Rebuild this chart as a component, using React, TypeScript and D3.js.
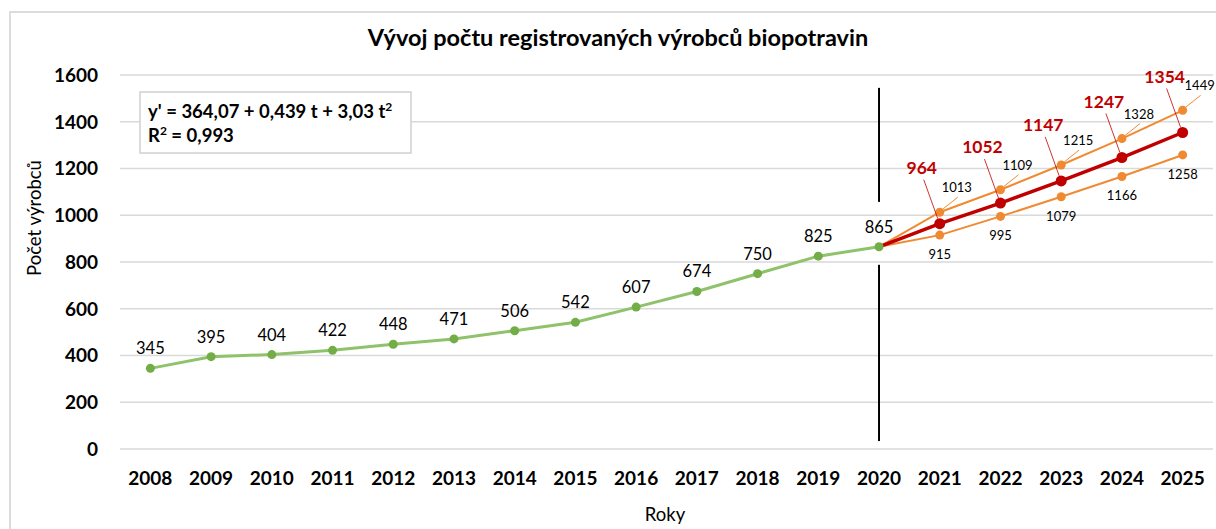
import React from "react";
import * as d3 from "d3";

const years = [
  "2008", "2009", "2010", "2011", "2012", "2013", "2014", "2015", "2016",
  "2017", "2018", "2019", "2020", "2021", "2022", "2023", "2024", "2025",
];
const actualYears = years.slice(0, 13);
const actual = [345, 395, 404, 422, 448, 471, 506, 542, 607, 674, 750, 825, 865];
const forecastYears = ["2020", "2021", "2022", "2023", "2024", "2025"];
const forecast = [865, 964, 1052, 1147, 1247, 1354];
const upper = [865, 1013, 1109, 1215, 1328, 1449];
const lower = [865, 915, 995, 1079, 1166, 1258];
const yTicks = [0, 200, 400, 600, 800, 1000, 1200, 1400, 1600];

const W = 1216;
const H = 529;
const FONT = "Lato, 'Open Sans', sans-serif";
const GREEN_LINE = "#8fc26a";
const GREEN_DOT = "#72ad47";
const RED = "#c00000";
const ORANGE = "#f08a32";

export default function App() {
  const x = d3.scaleBand().domain(years).range([120, 1213]).padding(0);
  const cx = (yr: string) => (x(yr) ?? 0) + x.bandwidth() / 2;
  const y = d3.scaleLinear().domain([0, 1600]).range([449, 75]);

  const line = d3
    .line<[string, number]>()
    .x((d) => cx(d[0]))
    .y((d) => y(d[1]));

  const green: [string, number][] = actualYears.map((yr, i) => [yr, actual[i]]);
  const red: [string, number][] = forecastYears.map((yr, i) => [yr, forecast[i]]);
  const up: [string, number][] = forecastYears.map((yr, i) => [yr, upper[i]]);
  const lo: [string, number][] = forecastYears.map((yr, i) => [yr, lower[i]]);

  const x2020 = cx("2020");

  return (
    <svg
      width={W}
      height={H}
      style={{ position: "absolute", left: 0, top: 0, background: "#fff" }}
      fontFamily={FONT}
    >
      <rect x={10} y={12} width={1215} height={530} fill="#fff" stroke="#dcdcdc" strokeWidth={2} />

      <text x={618} y={46} textAnchor="middle" fontSize={23.5} fontWeight={700} fill="#000">
        Vývoj počtu registrovaných výrobců biopotravin
      </text>

      {/* grid + y ticks */}
      {yTicks.map((t) => (
        <g key={t}>
          <line x1={120} x2={1213} y1={y(t)} y2={y(t)} stroke="#d9d9d9" strokeWidth={1.5} />
          <text x={98} y={y(t)} dy="0.36em" textAnchor="end" fontSize={19} fontWeight={700}>
            {t}
          </text>
        </g>
      ))}

      {/* x ticks */}
      {years.map((yr) => (
        <text key={yr} x={cx(yr)} y={485} textAnchor="middle" fontSize={19} fontWeight={700}>
          {yr}
        </text>
      ))}

      <text x={665} y={521} textAnchor="middle" fontSize={18.5}>
        Roky
      </text>
      <text
        transform={`translate(41,${218}) rotate(-90)`}
        textAnchor="middle"
        fontSize={18.5}
      >
        Počet výrobců
      </text>

      {/* equation box */}
      <rect x={140} y={92} width={271} height={61} fill="#fff" stroke="#d0d0d0" strokeWidth={1.5} />
      <text x={148} y={118} fontSize={18.5} fontWeight={700}>
        y' = 364,07 + 0,439 t + 3,03 t<tspan dy={-7} fontSize={12}>2</tspan>
      </text>
      <text x={148} y={142} fontSize={18.5} fontWeight={700}>
        R<tspan dy={-7} fontSize={12}>2</tspan>
        <tspan dy={7}> = 0,993</tspan>
      </text>

      {/* 2020 divider */}
      <line x1={x2020} x2={x2020} y1={y(1545)} y2={y(1057)} stroke="#000" strokeWidth={2} />
      <line x1={x2020} x2={x2020} y1={y(788)} y2={y(34)} stroke="#000" strokeWidth={2} />

      {/* orange bands */}
      <path d={line(up) ?? ""} fill="none" stroke={ORANGE} strokeWidth={2} />
      <path d={line(lo) ?? ""} fill="none" stroke={ORANGE} strokeWidth={2} />
      {up.slice(1).map((d) => (
        <circle key={"u" + d[0]} cx={cx(d[0])} cy={y(d[1])} r={4.5} fill={ORANGE} />
      ))}
      {lo.slice(1).map((d) => (
        <circle key={"l" + d[0]} cx={cx(d[0])} cy={y(d[1])} r={4.5} fill={ORANGE} />
      ))}

      {/* red forecast */}
      <path d={line(red) ?? ""} fill="none" stroke={RED} strokeWidth={3.5} />
      {red.slice(1).map((d) => (
        <circle key={"r" + d[0]} cx={cx(d[0])} cy={y(d[1])} r={5.5} fill={RED} />
      ))}

      {/* green actual */}
      <path d={line(green) ?? ""} fill="none" stroke={GREEN_LINE} strokeWidth={3} />
      {green.map((d) => (
        <circle key={"g" + d[0]} cx={cx(d[0])} cy={y(d[1])} r={4.5} fill={GREEN_DOT} />
      ))}

      {/* labels */}
      {green.map((d) => (
        <text
          key={"gt" + d[0]}
          x={cx(d[0])}
          y={y(d[1]) - 14}
          textAnchor="middle"
          fontSize={16.5}
          fill="#000"
        >
          {d[1]}
        </text>
      ))}

      {lo.slice(1).map((d) => (
        <text
          key={"lt" + d[0]}
          x={cx(d[0])}
          y={y(d[1]) + 24}
          textAnchor="middle"
          fontSize={13}
          fill="#000"
        >
          {d[1]}
        </text>
      ))}

      {up.slice(1).map((d) => {
        const px = cx(d[0]);
        const py = y(d[1]);
        return (
          <g key={"ut" + d[0]}>
            <line x1={px + 3} y1={py - 3} x2={px + 18} y2={py - 15} stroke={ORANGE} strokeWidth={1} />
            <text x={px + 17} y={py - 20} textAnchor="middle" fontSize={13} fill="#000">
              {d[1]}
            </text>
          </g>
        );
      })}

      {red.slice(1).map((d) => {
        const px = cx(d[0]);
        const py = y(d[1]);
        return (
          <g key={"rt" + d[0]}>
            <line x1={px - 2} y1={py - 5} x2={px - 16} y2={py - 44} stroke={RED} strokeWidth={0.8} />
            <text
              x={px - 18}
              y={py - 50}
              textAnchor="middle"
              fontSize={17.5}
              fontWeight={700}
              fill={RED}
            >
              {d[1]}
            </text>
          </g>
        );
      })}
    </svg>
  );
}
